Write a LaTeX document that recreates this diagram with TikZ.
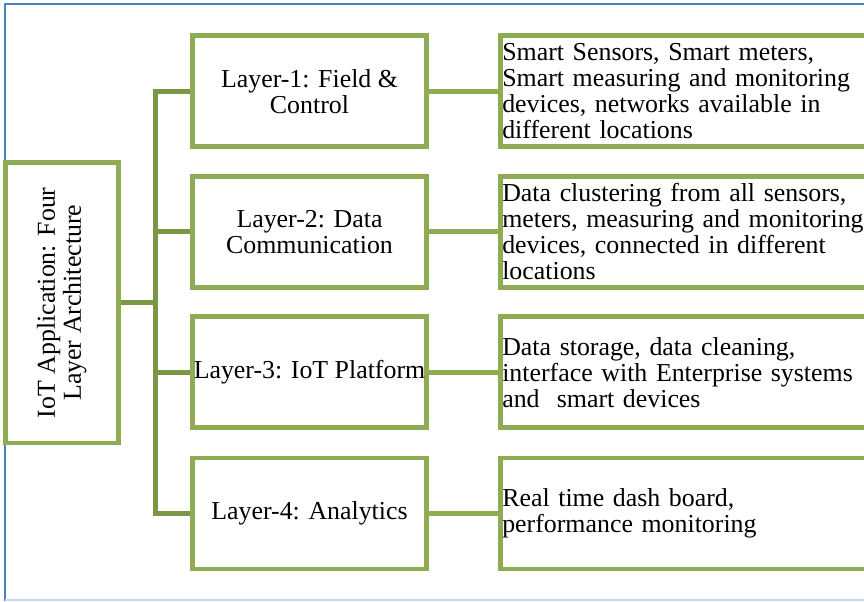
\documentclass[tikz,border=0pt]{standalone}
\usepackage{fontspec}
\setmainfont{Liberation Serif}
\usepackage{xcolor}
\definecolor{FrameBlue}{HTML}{4F81BD}
\definecolor{FrameBlueLight}{HTML}{C6D9F1}
\definecolor{BoxGreen}{HTML}{8EAC54}
\definecolor{TrunkGreen}{HTML}{7B9645}
\tikzset{
  frame/.style={draw=FrameBlue, line width=1.5pt},
  appbox/.style={draw=BoxGreen, line width=3.5pt, align=center, inner sep=0pt,
                 minimum width=210.4pt, minimum height=84.75pt},
  layerbox/.style={draw=BoxGreen, line width=3.5pt, align=center, inner sep=0pt,
                   minimum width=175.5pt, minimum height=83.25pt},
  descbox/.style={draw=BoxGreen, line width=3.5pt, align=left, inner xsep=1.2pt,
                  inner ysep=0pt, text width=282pt, minimum height=83.25pt},
  trunk/.style={draw=TrunkGreen, line width=3.5pt},
  link/.style={draw=BoxGreen, line width=3.5pt}
}

\begin{document}
\begin{tikzpicture}[x=0.75pt, y=-0.75pt, font=\fontsize{19.4}{19.5}\selectfont]
  \useasboundingbox (0,0) rectangle (864,601);
  \draw[frame] (5,601) -- (5,4) -- (870,4);
  \draw[frame, draw=FrameBlueLight] (5,600) -- (870,600);

  \node[appbox, rotate=90] (app) at (61.8,302.75)
    {IoT Application: Four\\Layer Architecture};

  \node[layerbox] (l1) at (309.5,91.3) {Layer-1: Field \&\\Control};
  \node[layerbox] (l2) at (309.5,231.8) {Layer-2: Data\\Communication};
  \node[layerbox] (l3) at (309.5,372.3) {Layer-3: IoT Platform};
  \node[layerbox] (l4) at (309.5,513.5) {Layer-4: Analytics};

  \node[descbox] (d1) at (690.3,91.3)
    {Smart Sensors, Smart meters,\\Smart measuring and monitoring\\
     devices, networks available in\\different locations};
  \node[descbox] (d2) at (690.3,231.8)
    {Data clustering from all sensors,\\meters, measuring and monitoring\\
     devices, connected in different\\locations};
  \node[descbox] (d3) at (690.3,372.3)
    {Data storage, data cleaning,\\interface with Enterprise systems\\
     and\ \ smart devices};
  \node[descbox] (d4) at (690.3,513.5)
    {Real time dash board,\\performance monitoring};

  \coordinate (bus) at (155.3,302.75);
  \draw[trunk] (app.south) -- (bus);
  \draw[trunk] (l1.west) -| (bus) |- (l4.west);
  \draw[trunk] (l2.west) -- (l2.west -| bus);
  \draw[trunk] (l3.west) -- (l3.west -| bus);
  \foreach \i in {1,...,4}
    \draw[link] (l\i.east) -- (d\i.west);
\end{tikzpicture}
\end{document}
